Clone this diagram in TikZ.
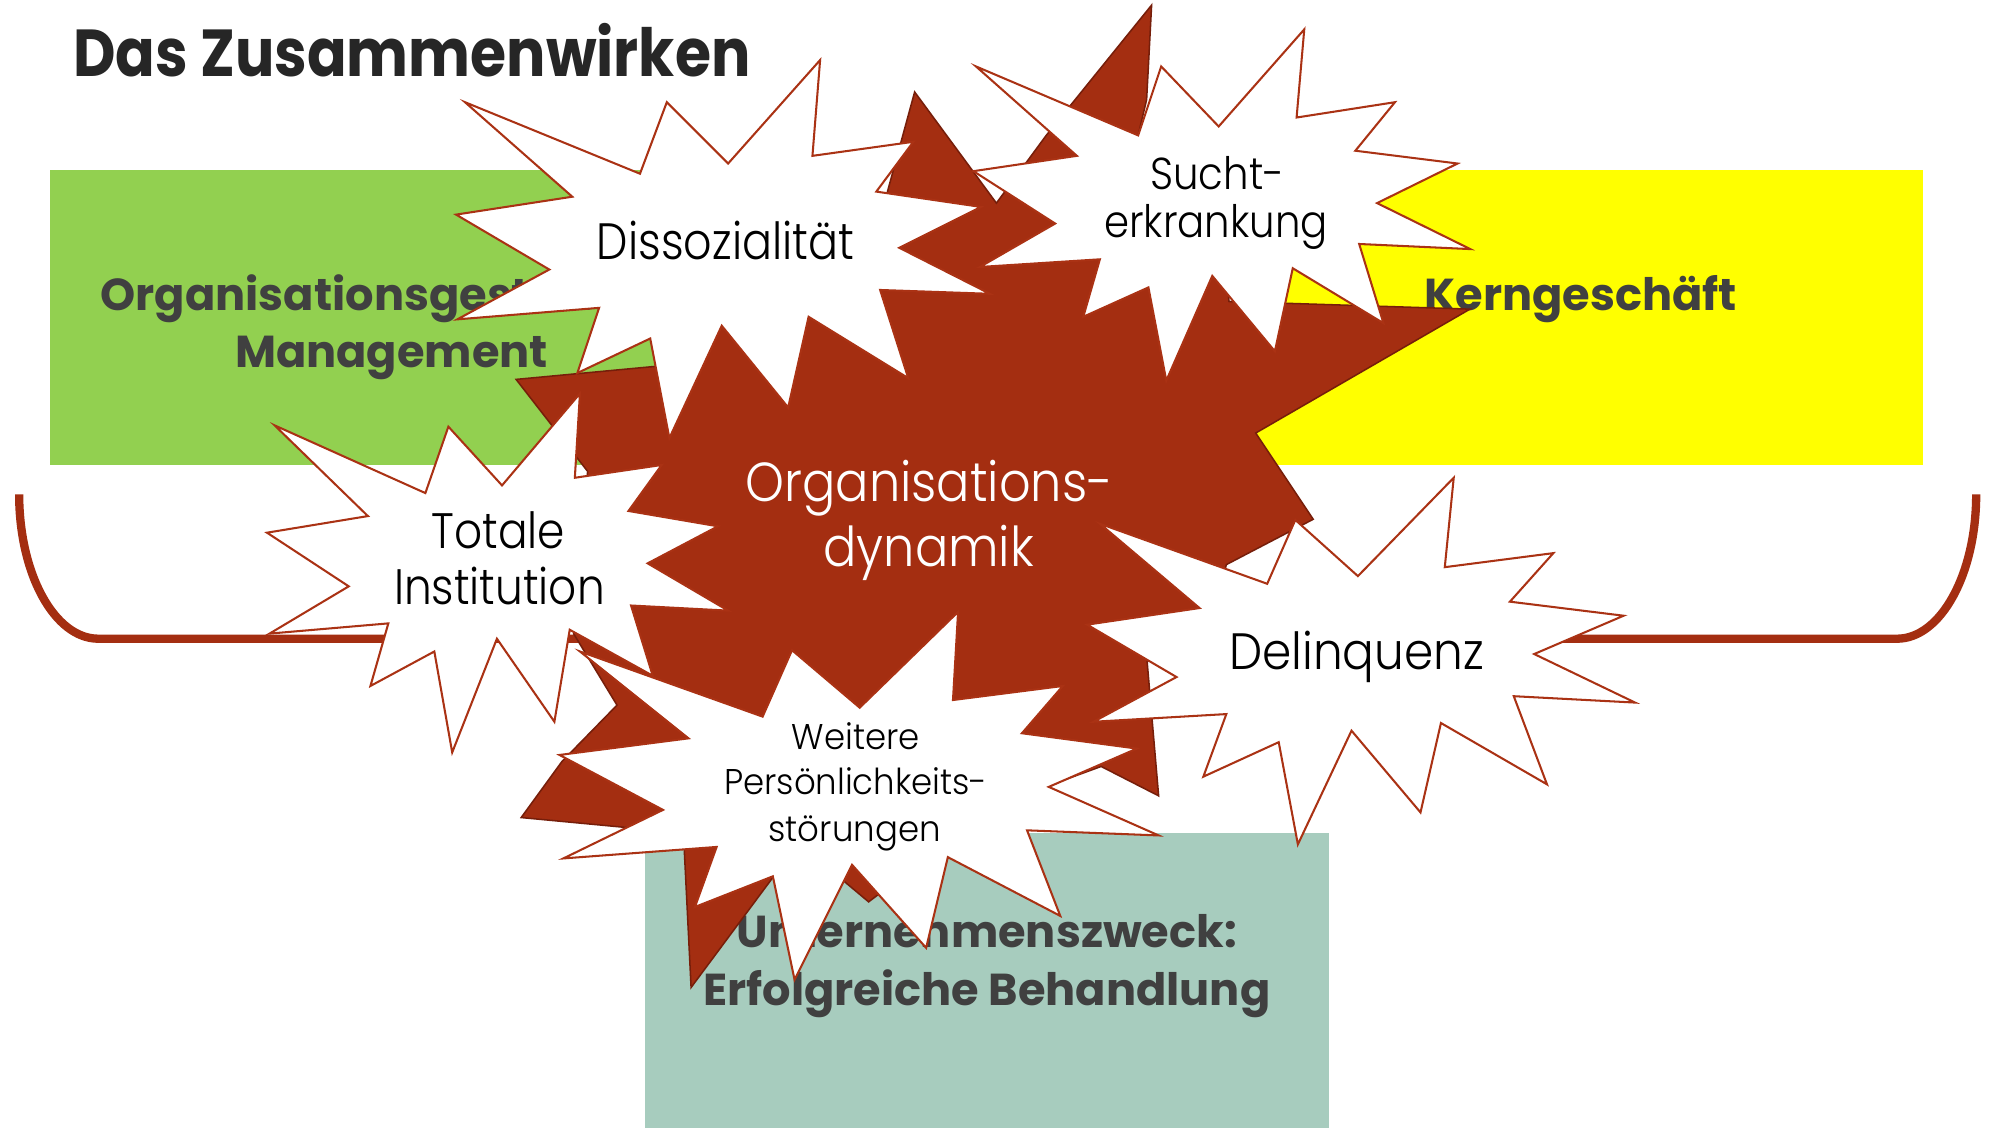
\documentclass[tikz,border=0pt]{standalone}
\usepackage{fontspec}
\setmainfont{Poppins}
\newfontfamily\lightfont{Poppins}[UprightFont=* Light]
\newcommand{\narrowtext}[2]{\scalebox{#1}[1]{#2}}
\definecolor{dynred}{RGB}{164,46,17}
\definecolor{dyndark}{RGB}{118,30,10}
\definecolor{starline}{RGB}{170,50,20}
\definecolor{greenbox}{RGB}{146,208,80}
\definecolor{yellowbox}{RGB}{255,255,0}
\definecolor{tealbox}{RGB}{167,204,190}
\definecolor{boxtext}{RGB}{64,64,64}
\definecolor{titletext}{RGB}{38,38,38}
\tikzset{
  boxlabel/.style={font=\bfseries\fontsize{35}{42}\selectfont, text=boxtext, inner sep=0, anchor=base},
  starlabel/.style={inner sep=0, anchor=base, text=black},
  whitestar/.style={fill=white, draw=starline, line width=1.6pt, line join=miter},
  dynstar/.style={fill=dynred, draw=dyndark, line width=1.2pt, line join=miter},
  bracketline/.style={draw=dynred, line width=6.5pt}
}
\begin{document}
\begin{tikzpicture}[x=1pt,y=-1pt]
\useasboundingbox (0,0) rectangle (1568,885);
\fill[white] (0,0) rectangle (1568,885);

% title
\node[font=\bfseries\fontsize{52}{60}\selectfont, text=titletext, inner sep=0, anchor=base west] (title) at (57,60) {\narrowtext{0.88}{Das Zusammenwirken}};

% the three boxes
\fill[greenbox] (39,133) rectangle (574,364);
\fill[yellowbox] (970,133) rectangle (1505,364);
\fill[tealbox] (505,652) rectangle (1040,883);
\node[boxlabel] (org1) at (306.5,243) {Organisationsgestaltung};
\node[boxlabel] (org2) at (306.5,288) {Management};
\node[boxlabel] (kern) at (1237.5,243) {Kerngeschäft};
\node[boxlabel] (zweck1) at (772.5,742) {Unternehmenszweck:};
\node[boxlabel] (zweck2) at (772.5,787) {Erfolgreiche Behandlung};

% bracket
\draw[bracketline] (15,387) arc[start angle=180, end angle=90, x radius=62, y radius=113]
  -- (1485,500) arc[start angle=90, end angle=0, x radius=62, y radius=113];

% central explosion
\path[dynstar] (901.5,4) -- (897.6,78) -- (891,106) -- (958,150) -- (962,236)
  -- (1150.7,242) -- (983,339) -- (1028,406.5) -- (960,442) -- (950,480)
  -- (898,518) -- (907,623) -- (862,600) -- (780,630) -- (680,706)
  -- (625,660) -- (541,773) -- (535,652) -- (408,640) -- (440,596)
  -- (483,552) -- (449,496) -- (460,369) -- (404,297) -- (511,287)
  -- (535,285) -- (560,240) -- (600,215) -- (690,170) -- (695,149)
  -- (716,72) -- (780,159) -- (819,106) -- cycle;
\node[inner sep=0, anchor=base, text=white, font=\lightfont\fontsize{43}{50}\selectfont] (dyn1) at (727.5,392.7) {\narrowtext{0.9}{Organisations-}};
\node[inner sep=0, anchor=base, text=white, font=\lightfont\fontsize{43}{50}\selectfont] (dyn2) at (727,443.6) {\narrowtext{0.9}{dynamik}};

% Dissozialitaet
\path[whitestar] (364,80) -- (501,136) -- (522,80) -- (570,128) -- (642,47)
  -- (636,122) -- (715,111) -- (686,150) -- (768,162) -- (704,194)
  -- (775,230) -- (689,227) -- (711,296) -- (633,248) -- (617,319)
  -- (565,255) -- (524,343) -- (509,265) -- (452,292) -- (469,241)
  -- (358,250) -- (430,211) -- (357,168) -- (448,154) -- cycle;
\node[starlabel, font=\lightfont\fontsize{40}{48}\selectfont] (diss) at (568,203) {\narrowtext{0.87}{Dissozialität}};

% Suchterkrankung
\path[whitestar] (764,52) -- (891,106) -- (909,52) -- (954,99) -- (1021,23)
  -- (1015,92) -- (1092,80) -- (1061,118) -- (1141,128) -- (1078,159)
  -- (1151,195) -- (1064,191) -- (1083,253) -- (1012,210) -- (998,275)
  -- (949,216) -- (913,298) -- (899,225) -- (848,248) -- (861,203)
  -- (767,209) -- (826,175) -- (762,134) -- (843,122) -- cycle;
\node[starlabel, font=\lightfont\fontsize{35}{42}\selectfont] (sucht1) at (953,148) {\narrowtext{0.9}{Sucht-}};
\node[starlabel, font=\lightfont\fontsize{35}{42}\selectfont] (sucht2) at (952,186) {\narrowtext{0.9}{erkrankung}};

% Totale Institution
\path[whitestar] (215,333) -- (333,386) -- (351,334) -- (393,380) -- (454,308)
  -- (450,374) -- (518,364) -- (492,400) -- (562,412) -- (507,441)
  -- (570,478) -- (494,474) -- (511,529) -- (446,493) -- (434,565)
  -- (389,500) -- (354,589) -- (340,510) -- (290,537) -- (304,488)
  -- (211,496) -- (273,459) -- (209,417) -- (288,404) -- cycle;
\node[starlabel, font=\lightfont\fontsize{39}{46}\selectfont] (tot1) at (390,429) {\narrowtext{0.88}{Totale}};
\node[starlabel, font=\lightfont\fontsize{39}{46}\selectfont] (tot2) at (391,473.5) {\narrowtext{0.88}{Institution}};

% Weitere Persoenlichkeitsstoerungen
\path[whitestar] (454,510) -- (597,561) -- (620,509) -- (673,554) -- (750,479)
  -- (746,548) -- (832,537) -- (800,574) -- (890,586) -- (821,616)
  -- (907,654) -- (804,650) -- (830,717) -- (742,671) -- (725,742)
  -- (667,677) -- (622,767) -- (605,686) -- (544,710) -- (561,663)
  -- (441,672) -- (519,634) -- (438,591) -- (539,578) -- cycle;
\node[starlabel, font=\lightfont\fontsize{28}{34}\selectfont] (weit1) at (670,587) {\narrowtext{0.95}{Weitere}};
\node[starlabel, font=\lightfont\fontsize{28}{34}\selectfont] (weit2) at (670,622) {\narrowtext{0.95}{Persönlichkeits-}};
\node[starlabel, font=\lightfont\fontsize{28}{34}\selectfont] (weit3) at (669,659) {\narrowtext{0.95}{störungen}};

% Delinquenz
\path[whitestar] (1138,374) -- (1131,444) -- (1216,433) -- (1182,471) -- (1271,482)
  -- (1201,512) -- (1280,550) -- (1185,545) -- (1211,614) -- (1128,566)
  -- (1112,636) -- (1058,572) -- (1016,661) -- (1001,581) -- (942,608)
  -- (960,559) -- (856,565) -- (921,530) -- (851,489) -- (939,476)
  -- (861,410) -- (992,457) -- (1014,407) -- (1063,451) -- cycle;
\node[starlabel, font=\lightfont\fontsize{40}{48}\selectfont] (delin) at (1062,524) {\narrowtext{0.92}{Delinquenz}};
\end{tikzpicture}
\end{document}
